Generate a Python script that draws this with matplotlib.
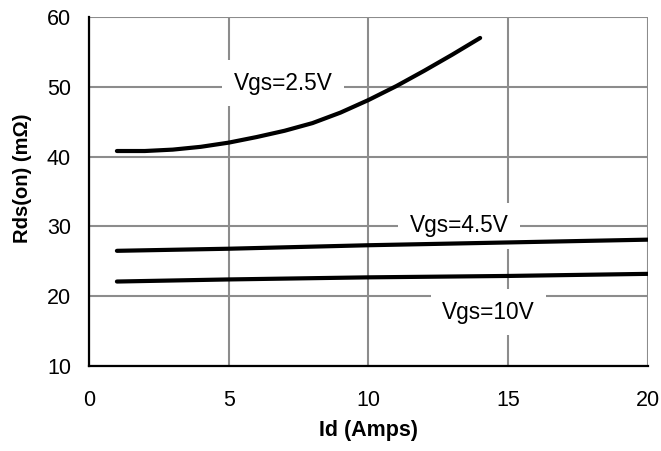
import matplotlib
matplotlib.use("Agg")
import matplotlib.pyplot as plt

plt.rcParams['font.family'] = ['Liberation Sans', 'DejaVu Sans']

# Id (A) vs Rds(on) (mOhm)
id_25 = [1, 2, 3, 4, 5, 6, 7, 8, 9, 10, 11, 12, 13, 14]
rds_25 = [40.8, 40.8, 41.0, 41.4, 42.0, 42.8, 43.7, 44.8, 46.3, 48.1, 50.1, 52.3, 54.6, 57.0]

id_45 = [1, 5, 10, 15, 20]
rds_45 = [26.5, 26.8, 27.3, 27.7, 28.1]

id_10 = [1, 5, 10, 15, 20]
rds_10 = [22.1, 22.4, 22.7, 22.9, 23.2]

labels = ['Vgs=2.5V', 'Vgs=4.5V', 'Vgs=10V']
xticks = [0, 5, 10, 15, 20]
yticks = [10, 20, 30, 40, 50, 60]

fig = plt.figure(figsize=(6.61, 4.51), dpi=100)
ax = fig.add_axes([0.1346, 0.1885, 0.8454, 0.7738])

for x, y in [(id_25, rds_25), (id_45, rds_45), (id_10, rds_10)]:
   ax.plot(x, y, color='black', lw=3, solid_capstyle='round', zorder=3)

ax.set_xlim(0, 20)
ax.set_ylim(10, 60)
ax.set_xticks(xticks)
ax.set_yticks(yticks)
ax.grid(True, color='#8c8c8c', lw=1.5, zorder=1)
ax.set_axisbelow(True)
ax.tick_params(length=0, labelsize=15.5)
ax.tick_params(axis='x', pad=17)
ax.tick_params(axis='y', pad=13)

for s in ['top', 'right']:
   ax.spines[s].set_visible(False)
for s in ['left', 'bottom']:
   ax.spines[s].set_linewidth(1.6)
   ax.spines[s].set_zorder(4)

ax.set_xlabel('Id (Amps)', fontsize=15.5, fontweight='bold', labelpad=7)
ax.set_ylabel('Rds(on) (mΩ)', fontsize=14.5, fontweight='bold')
ax.yaxis.set_label_coords(-0.102, 0.539)

box = dict(boxstyle='square,pad=0.5', fc='white', ec='none')
label_pos = [(6.95, 50.5), (13.25, 30.1), (14.3, 17.7)]
for txt, (lx, ly) in zip(labels, label_pos):
   ax.text(lx, ly, txt, fontsize=16.3, ha='center', va='center', bbox=box, zorder=2)

fig.savefig('out.png', dpi=100)
